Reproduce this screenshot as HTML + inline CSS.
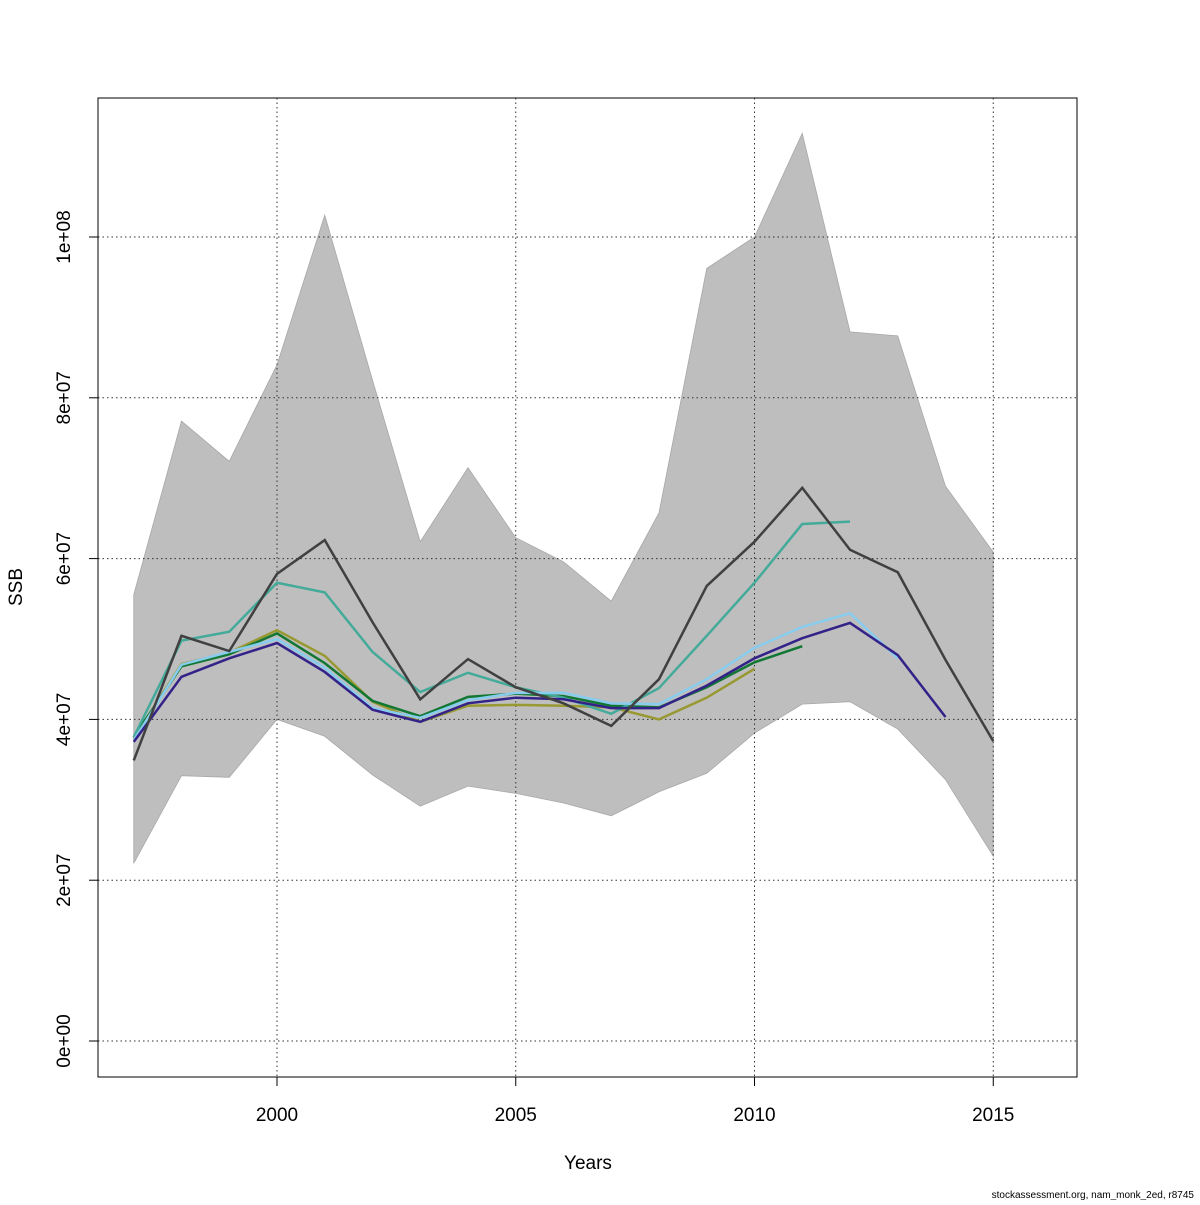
<!DOCTYPE html>
<html><head><meta charset="utf-8"><style>
body{margin:0;background:#fff;}
svg text{font-family:"Liberation Sans","DejaVu Sans",sans-serif;}
</style></head><body>
<svg id="chart" width="1200" height="1200" xmlns="http://www.w3.org/2000/svg">
<rect width="1200" height="1200" fill="#fff"/>
<g id="band"></g>
<g id="grid"></g>
<g id="lines"></g>
<rect x="98" y="98" width="979" height="979" fill="none" stroke="#000" stroke-width="1"/>
<g id="axes"></g>
<text x="588" y="1169" font-size="19" text-anchor="middle">Years</text>
<text transform="translate(22,587) rotate(-90)" font-size="19" text-anchor="middle">SSB</text>
<text x="1194" y="1198" font-size="10" text-anchor="end">stockassessment.org, nam_monk_2ed, r8745</text>
</svg>
<script>
const years = [1997,1998,1999,2000,2001,2002,2003,2004,2005,2006,2007,2008,2009,2010,2011,2012,2013,2014,2015];
const upper = [55.5,77.1,72.1,84.1,102.7,82.2,62.1,71.3,62.6,59.6,54.7,65.7,96.1,100,112.9,88.2,87.7,69.0,60.8];
const lower = [22.1,33.0,32.8,40.0,37.9,33.1,29.2,31.7,30.8,29.6,28.0,31.0,33.3,38.3,41.9,42.2,38.8,32.5,23.0];
const olive = [37.6,46.9,48.3,51.1,47.9,42.2,39.7,41.7,41.8,41.7,41.5,40.0,42.7,46.3];
const green = [37.8,46.6,48.1,50.7,47.0,42.3,40.4,42.8,43.2,42.9,41.7,41.5,44.0,47.1,49.1];
const teal = [37.8,49.8,50.9,57.0,55.8,48.4,43.4,45.8,44.0,42.7,40.7,43.9,50.4,57.0,64.3,64.6];
const lightblue = [37.4,46.8,48.4,50.0,46.4,41.4,40.2,42.4,43.3,43.3,42.0,41.9,45.0,48.9,51.5,53.2,47.6];
const purple = [37.2,45.3,47.6,49.5,45.9,41.2,39.7,42.0,42.7,42.5,41.4,41.4,44.2,47.6,50.1,52.0,48.0,40.3];
const black = [34.9,50.4,48.5,58.1,62.3,52.1,42.5,47.5,44.0,42.0,39.2,45.0,56.6,62.1,68.8,61.1,58.3,47.4,37.3];
const xTicks = [2000,2005,2010,2015];
const yTicks = [0,20,40,60,80,100];
const yTickLabels = ["0e+00","2e+07","4e+07","6e+07","8e+07","1e+08"];

const NS="http://www.w3.org/2000/svg";
const xs = y => 277 + (y-2000)*47.75;
const ys = v => 1041 - v*8.04;
function mk(tag, parent, attrs){const e=document.createElementNS(NS,tag);for(const k in attrs)e.setAttribute(k,attrs[k]);document.getElementById(parent).appendChild(e);return e;}

// band
let pts = years.map((y,i)=>xs(y)+","+ys(upper[i]));
for(let i=years.length-1;i>=0;i--) pts.push(xs(years[i])+","+ys(lower[i]));
const poly = mk('polygon','band',{points:pts.join(' '),fill:'#bebebe',stroke:'#a8a8a8','stroke-width':0.8});



// grid
xTicks.forEach(t=>{
  const l=mk('line','grid',{x1:xs(t),x2:xs(t),y1:98,y2:1077,stroke:'#333','stroke-width':1,'stroke-dasharray':'1.5,3'});
  
  
});
yTicks.forEach(t=>{
  const l=mk('line','grid',{x1:98,x2:1077,y1:ys(t),y2:ys(t),stroke:'#333','stroke-width':1,'stroke-dasharray':'1.5,3'});
  
  
});

// series
const series=[[olive,'#999933','olive-series'],[green,'#117733','green-series'],[teal,'#44aa99','teal-series'],[lightblue,'#88ccee','lightblue-series'],[purple,'#332288','purple-series'],[black,'#404040','black-series']];
series.forEach(s=>{
  const p=s[0].map((v,i)=>xs(years[i])+","+ys(v)).join(' ');
  const pl=mk('polyline','lines',{points:p,fill:'none',stroke:s[1],'stroke-width':2.5,'stroke-linejoin':'miter'});
  
  
});

// axes ticks
xTicks.forEach(t=>{
  const l=mk('line','axes',{x1:xs(t),x2:xs(t),y1:1077,y2:1086,stroke:'#000'});
  
  
  const tx=mk('text','axes',{x:xs(t),y:1121,'font-size':19,'text-anchor':'middle'});
  tx.textContent=t;
  
  
});
yTicks.forEach((t,i)=>{
  const l=mk('line','axes',{x1:89,x2:98,y1:ys(t),y2:ys(t),stroke:'#000'});
  
  
  const tx=mk('text','axes',{transform:`translate(70,${ys(t)}) rotate(-90)`,'font-size':19,'text-anchor':'middle'});
  tx.textContent=yTickLabels[i];
  
  
});
</script>
</body></html>
